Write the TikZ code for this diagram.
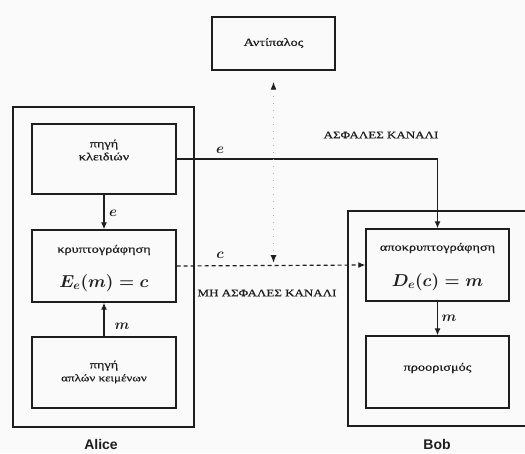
\documentclass[tikz,border=0pt]{standalone}
\usepackage{fontspec}
\newfontfamily\gr[FakeStretch=1.3,FakeBold=0.6]{Liberation Serif}
\newfontfamily\lsans{Liberation Sans}
\usetikzlibrary{arrows.meta}
\definecolor{ink}{HTML}{1E1E1E}
\begin{document}
\begin{tikzpicture}[x=1pt,y=-1pt,
  every node/.style={inner sep=0pt, text=ink},
  frame/.style={draw=ink, line width=1.4pt},
  box/.style={frame, minimum width=144pt},
  gtext/.style={font=\gr\fontsize{11}{13}\selectfont, align=center},
  caps/.style={font=\gr\fontsize{10}{12}\selectfont},
  mathlbl/.style={font=\boldmath\fontsize{14}{16}\selectfont},
  biglbl/.style={font=\boldmath\fontsize{17}{19}\selectfont},
  who/.style={font=\lsans\bfseries\fontsize{14}{16}\selectfont},
  conn/.style={draw=ink, line width=1.2pt, -{Latex[length=7pt,width=6pt]}},
  dashconn/.style={conn, dash pattern=on 4pt off 3pt},
  dotconn/.style={draw=gray!70, line width=1.2pt, dash pattern=on 1pt off 6pt,
    {Latex[length=8pt,width=6pt,fill=ink,color=ink]}-{Latex[length=8pt,width=6pt,fill=ink,color=ink]}}
]
\fill[gray!4] (0,0) rectangle (525,453);
\useasboundingbox (0,0) rectangle (525,453);

% outer frames
\node[frame, minimum width=181pt, minimum height=320pt] (alice) at (103.5,267) {};
\draw[frame] (530,211) -- (348,211) -- (348,426) -- (530,426);
\coordinate (bobtl) at (348,211);

% adversary
\node[frame, minimum width=123pt, minimum height=53pt] (adv) at (273.5,43.5) {};
\node[gtext] (advt) at (273.5,43) {Αντίπαλος};

% Alice boxes
\node[box, minimum height=70pt] (key) at (104,159) {};
\node[gtext] (keyt) at (104,150) {πηγή\\κλειδιών};
\node[box, minimum height=72pt] (enc) at (104,266) {};
\node[gtext] (enct) at (104,250) {κρυπτογράφηση};
\node[biglbl] (encm) at (104,283) {$E_e(m) = c$};
\node[box, minimum height=71pt] (pt) at (104,372.5) {};
\node[gtext] (ptt) at (104,372) {πηγή\\{\fontsize{10}{12}\selectfont απλών κειμένων}};

% Bob boxes
\node[box, minimum width=143pt, minimum height=72pt] (dec) at (437.5,265) {};
\node[gtext] (dect) at (437.5,248) {αποκρυπτογράφηση};
\node[biglbl] (decm) at (437.5,282) {$D_e(c) = m$};
\node[box, minimum width=143pt, minimum height=72pt] (dst) at (437.5,372) {};
\node[gtext] (dstt) at (437.5,368) {προορισμός};

% connectors
\draw[conn] (key.east) -| (dec.north);
\draw[conn] (key.south) -- (enc.north);
\draw[conn] (pt.north) -- (enc.south);
\draw[dashconn] (enc.east) -- (dec.west);
\draw[conn] (dec.south) -- (dst.north);
\coordinate (tap) at (adv.south |- enc.east);
\draw[dotconn, shorten <=11pt, shorten >=3pt] (adv.south) -- (tap);

% labels
\node[mathlbl] (le1) at (220,150) {$e$};
\node[mathlbl] (le2) at (113,213) {$e$};
\node[mathlbl] (lc) at (220,255) {$c$};
\node[mathlbl] (lm1) at (122,326) {$m$};
\node[mathlbl] (lm2) at (449,318) {$m$};
\node[caps] (sec) at (381,135) {ΑΣΦΑΛΕΣ ΚΑΝΑΛΙ};
\node[caps] (insec) at (267,293) {ΜΗ ΑΣΦΑΛΕΣ ΚΑΝΑΛΙ};
\node[who] (alname) at (101,444) {Alice};
\node[who] (bobname) at (437,444) {Bob};
\end{tikzpicture}
\end{document}
